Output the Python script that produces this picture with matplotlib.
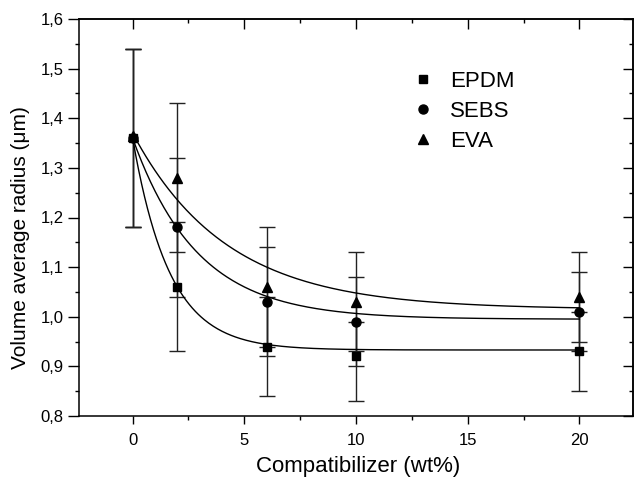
import numpy as np
import matplotlib
matplotlib.use("Agg")
import matplotlib.pyplot as plt
from matplotlib.lines import Line2D
from matplotlib.ticker import FuncFormatter, MultipleLocator

plt.rcParams['font.family'] = ['Liberation Sans', 'DejaVu Sans']

# compatibilizer content (wt%)
conc = [0, 2, 6, 10, 20]

# volume average radius (um) and error bars (lower, upper)
epdm = [1.36, 1.06, 0.94, 0.92, 0.93]
epdm_lo = [0.18, 0.13, 0.10, 0.09, 0.08]
epdm_hi = [0.18, 0.13, 0.10, 0.07, 0.08]

sebs = [1.36, 1.18, 1.03, 0.99, 1.01]
sebs_err = [0.18, 0.14, 0.11, 0.09, 0.08]

eva = [1.365, 1.28, 1.06, 1.03, 1.04]
eva_lo = [0.185, 0.15, 0.12, 0.10, 0.09]
eva_hi = [0.175, 0.15, 0.12, 0.10, 0.09]

# exponential decay fits y = y0 + A*exp(-x/t), parameters
fit_epdm = (0.933, 0.427, 1.65)
fit_sebs = (0.995, 0.365, 2.9)
fit_eva = (1.015, 0.355, 4.2)

fig = plt.figure(figsize=(6.34, 4.8), dpi=100)
ax = fig.add_axes([79/634, 64/480, 554/634, 397/480])

ebkw = dict(ls='none', ecolor='#222222', elinewidth=1, capsize=6, capthick=1, color='black')
ax.errorbar(conc, epdm, yerr=[epdm_lo, epdm_hi], marker='s', ms=6, **ebkw)
ax.errorbar(conc, sebs, yerr=sebs_err, marker='o', ms=6.5, **ebkw)
ax.errorbar(conc, eva, yerr=[eva_lo, eva_hi], marker='^', ms=7, **ebkw)

xx = np.linspace(0, 20, 300)
for y0, a, t in (fit_epdm, fit_sebs, fit_eva):
    ax.plot(xx, y0 + a*np.exp(-xx/t), color='black', lw=1)

ax.set_xlim(-2.4, 22.4)
ax.set_ylim(0.8, 1.6)
ax.xaxis.set_major_locator(MultipleLocator(5))
ax.xaxis.set_minor_locator(MultipleLocator(2.5))
ax.yaxis.set_major_locator(MultipleLocator(0.1))
ax.yaxis.set_minor_locator(MultipleLocator(0.05))
ax.yaxis.set_major_formatter(FuncFormatter(lambda v, p: f"{v:.1f}".replace('.', ',')))

for s in ax.spines.values():
    s.set_linewidth(1.1)
ax.tick_params(which='both', direction='out', width=1, labelsize=12, colors='black')
ax.tick_params(axis='x', which='major', length=6, pad=6)
ax.tick_params(axis='y', which='major', length=8, pad=3)
ax.tick_params(which='minor', length=3)

# inward ticks on top and right
top = ax.secondary_xaxis('top')
top.xaxis.set_major_locator(MultipleLocator(5))
top.xaxis.set_minor_locator(MultipleLocator(2.5))
right = ax.secondary_yaxis('right')
right.yaxis.set_major_locator(MultipleLocator(0.1))
right.yaxis.set_minor_locator(MultipleLocator(0.05))
for sec in (top, right):
    sec.tick_params(which='both', direction='in', width=1, labelleft=False, labelright=False,
                    labeltop=False, labelbottom=False)
    sec.tick_params(which='major', length=7)
    sec.tick_params(which='minor', length=3)
    for s in sec.spines.values():
        s.set_linewidth(1.1)

ax.set_xlabel('Compatibilizer (wt%)', fontsize=16)
ax.set_ylabel('Volume average radius (μm)', fontsize=15)
ax.xaxis.set_label_coords(0.504, -0.102)
ax.yaxis.set_label_coords(-0.088, 0.45)

handles = [Line2D([], [], ls='none', marker=m, ms=s, color='black')
           for m, s in (('s', 6), ('o', 6.5), ('^', 7))]
ax.legend(handles, ['EPDM', 'SEBS', 'EVA'], loc='upper left', bbox_to_anchor=(0.565, 0.92),
          frameon=False, fontsize=16, handlelength=1.0, handletextpad=0.7, labelspacing=0.4)

fig.savefig('out.png', dpi=100)
